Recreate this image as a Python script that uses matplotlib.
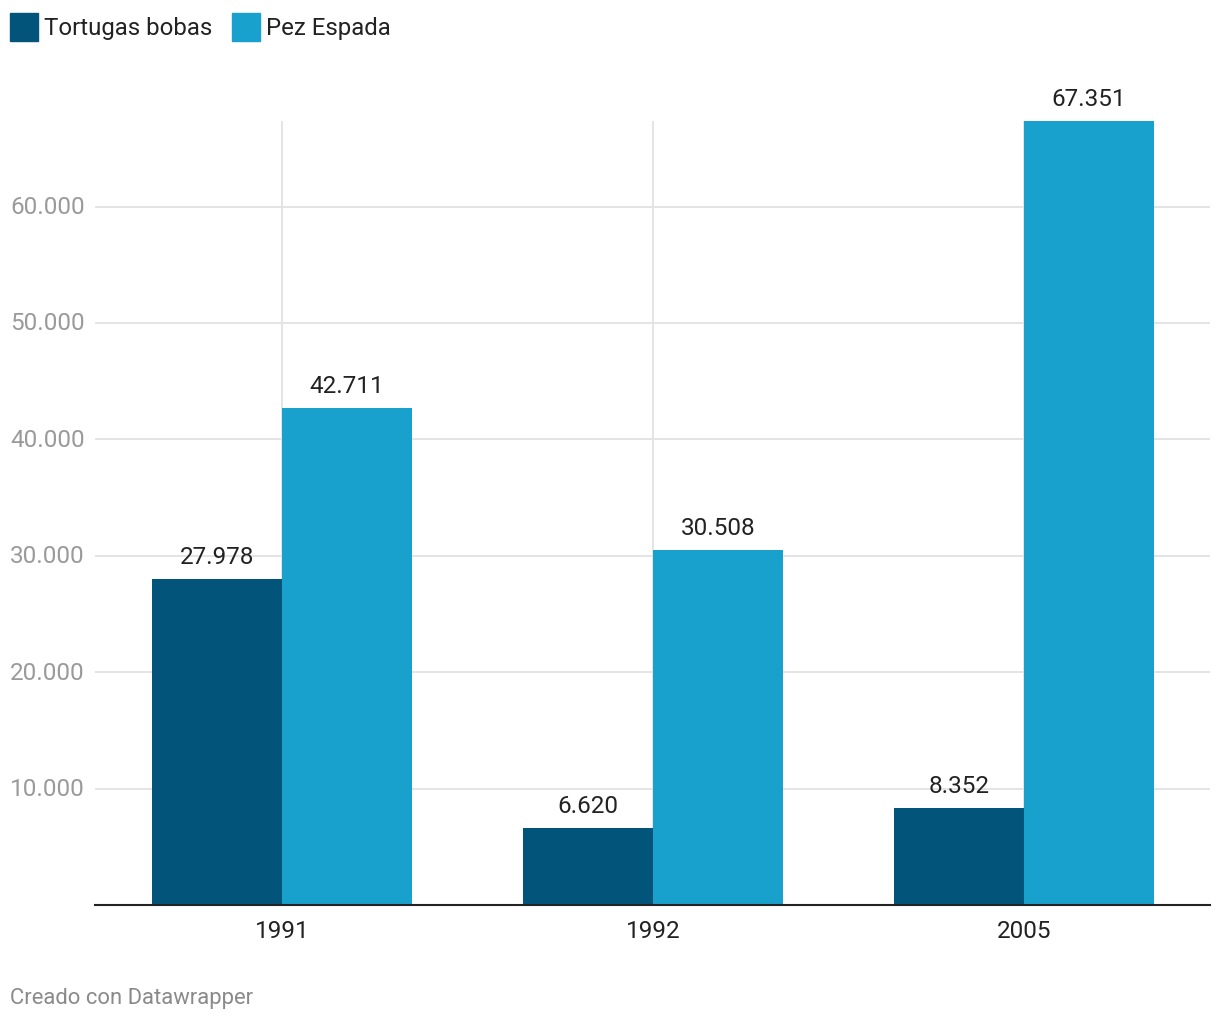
import matplotlib.pyplot as plt
import numpy as np
from matplotlib.patches import Rectangle

plt.rcParams['font.family'] = ['Roboto', 'DejaVu Sans']

years = ['1991', '1992', '2005']
tortugas = [27978, 6620, 8352]
pez_espada = [42711, 30508, 67351]
series_names = ['Tortugas bobas', 'Pez Espada']
colors = ['#02547b', '#18a1cd']
y_ticks = [10000, 20000, 30000, 40000, 50000, 60000]


def fmt(v):
    # Spanish thousands separator
    return f'{v:,}'.replace(',', '.')


fig = plt.figure(figsize=(12.2, 10.2), dpi=100)
ax = fig.add_axes([95 / 1220, 1 - 906 / 1020, 1115 / 1220, 784 / 1020])

x = np.arange(len(years))
w = 0.35
b1 = ax.bar(x - w / 2, tortugas, w, color=colors[0], zorder=3)
b2 = ax.bar(x + w / 2, pez_espada, w, color=colors[1], zorder=3)

for bars, vals in [(b1, tortugas), (b2, pez_espada)]:
    for rect, v in zip(bars, vals):
        ax.annotate(fmt(v), (rect.get_x() + rect.get_width() / 2, v),
                    xytext=(0, 8), textcoords='offset points',
                    ha='center', va='bottom', fontsize=17.5, color='#222222')

ax.set_xlim(-0.504, 2.501)
ax.set_ylim(0, 67351)

# horizontal grid lines
for t in y_ticks:
    ax.axhline(t, color='#e2e2e2', lw=1.3, zorder=1)
# vertical lines at category centres
for xi in x:
    ax.axvline(xi, color='#e2e2e2', lw=1.3, zorder=1)

ax.set_yticks([])
for t in y_ticks:
    ax.text(-85 / 1115, t, fmt(t), transform=ax.get_yaxis_transform(),
            ha='left', va='center', fontsize=17.5, color='#9a9a9a')

ax.set_xticks(x)
ax.set_xticklabels(years, fontsize=17.5, color='#222222')
ax.tick_params(axis='x', length=0, pad=10)

for s in ['top', 'right', 'left']:
    ax.spines[s].set_visible(False)
ax.spines['bottom'].set_color('#222222')
ax.spines['bottom'].set_linewidth(1.5)
ax.spines['bottom'].set_zorder(4)

# legend
fig.patches.append(Rectangle((10 / 1220, 1 - 42 / 1020), 28 / 1220, 28 / 1020,
                             transform=fig.transFigure, color=colors[0]))
fig.text(44 / 1220, 1 - 28 / 1020, series_names[0], fontsize=17.3,
         color='#222222', va='center', ha='left')
fig.patches.append(Rectangle((232 / 1220, 1 - 42 / 1020), 28 / 1220, 28 / 1020,
                             transform=fig.transFigure, color=colors[1]))
fig.text(266 / 1220, 1 - 28 / 1020, series_names[1], fontsize=17.3,
         color='#222222', va='center', ha='left')

fig.text(10 / 1220, 1 - 999 / 1020, 'Creado con Datawrapper', fontsize=15.8,
         color='#8a8a8a', va='center', ha='left')

fig.savefig('out.png', dpi=100)
